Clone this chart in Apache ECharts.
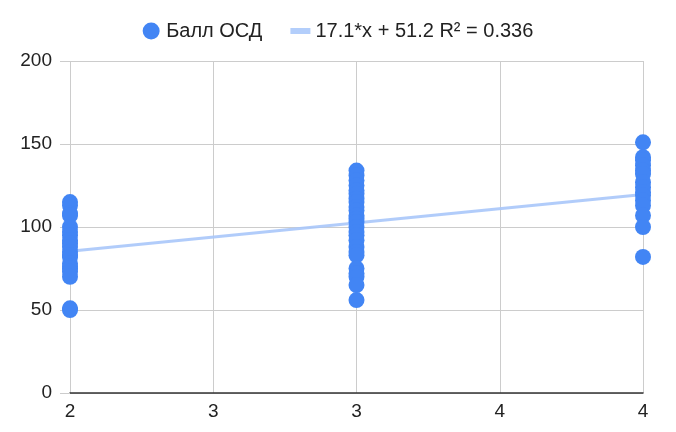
<!DOCTYPE html>
<html><head><meta charset="utf-8">
<script src="https://cdn.jsdelivr.net/npm/echarts@6/dist/echarts.min.js"></script>
<style>html,body{margin:0;padding:0;background:#fff}#c{width:676px;height:432px}</style>
</head><body><div id="c"></div>
<script>
const scatterName = 'Балл ОСД';
const trendName = '17.1*x + 51.2 R² = 0.336';
const xGroups = [2, 3, 4];
const valuesAt2 = [115, 113, 108, 107, 100, 97, 95, 92, 90, 88, 85, 83, 82, 78, 76, 75, 73, 70, 51, 50];
const valuesAt3 = [134, 131, 128, 125, 122, 120, 117, 115, 112, 110, 107, 105, 103, 100, 97, 95, 92, 88, 85, 83, 75, 72, 70, 65, 56];
const valuesAt4 = [151, 142, 140, 137, 134, 132, 127, 124, 121, 119, 116, 113, 107, 100, 82];
const trendX = [2, 4];
const trendY = [85.4, 119.6];
const yTicks = [0, 50, 100, 150, 200];

const pts = [];
[valuesAt2, valuesAt3, valuesAt4].forEach((arr, i) => arr.forEach(v => pts.push([xGroups[i], v])));

const font = '"Liberation Sans", Arial, sans-serif';
const chart = echarts.init(document.getElementById('c'));
chart.setOption({
  animation: false,
  textStyle: {fontFamily: font},
  legend: {
    top: 16, left: 'center', itemGap: 28,
    textStyle: {fontSize: 20, color: '#222', fontFamily: font},
    itemWidth: 20, itemHeight: 17, symbolKeepAspect: true,
    data: [
      {name: scatterName, icon: 'circle', itemStyle: {color: '#4285F4'}},
      {name: trendName, icon: 'path://M0,0 L20,0 L20,6 L0,6 Z', itemStyle: {color: '#B3CEFB'}}
    ]
  },
  grid: {left: 70, right: 33, top: 61, bottom: 39},
  xAxis: {
    type: 'value', min: 2, max: 4, interval: 0.5,
    axisLine: {show: true, onZero: false, lineStyle: {color: '#333', width: 1.5}},
    axisTick: {show: false},
    splitLine: {show: true, lineStyle: {color: '#ccc'}},
    axisLabel: {fontSize: 19, color: '#222', margin: 9, formatter: v => String(Math.round(v))}
  },
  yAxis: {
    type: 'value', min: yTicks[0], max: yTicks[yTicks.length - 1], interval: 50,
    axisLine: {show: false},
    axisTick: {show: true, length: 10, lineStyle: {color: '#ccc'}},
    splitLine: {lineStyle: {color: '#ccc'}},
    axisLabel: {fontSize: 19, color: '#222', margin: 18}
  },
  series: [
    {
      name: scatterName, type: 'scatter', symbolSize: 16,
      itemStyle: {color: '#4285F4', opacity: 1},
      data: pts, z: 3
    },
    {
      name: trendName, type: 'line', symbol: 'none',
      lineStyle: {color: '#A8C7FA', width: 3, opacity: 0.9},
      itemStyle: {color: '#B3CEFB'},
      data: trendX.map((x, i) => [x, trendY[i]]), z: 2
    }
  ]
});
</script></body></html>
